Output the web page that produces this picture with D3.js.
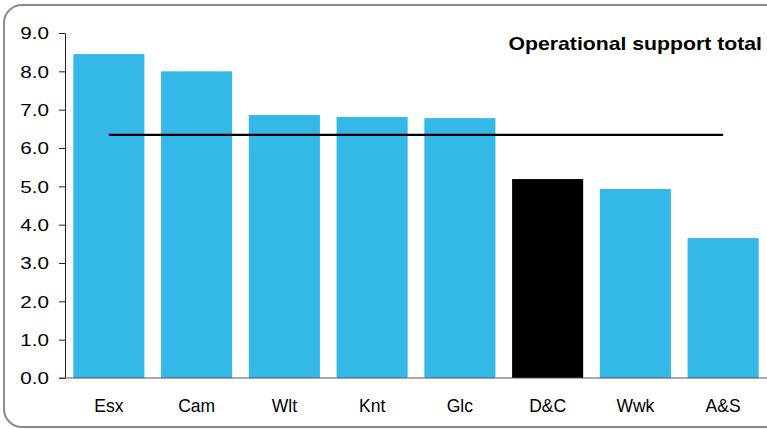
<!DOCTYPE html>
<html><head><meta charset="utf-8">
<script src="https://cdn.jsdelivr.net/npm/d3@7"></script>
<style>body{margin:0;background:#fff}svg{display:block}</style>
</head><body><svg id="c" width="767" height="429"></svg>
<script>
const categories = ["Esx","Cam","Wlt","Knt","Glc","D&C","Wwk","A&S"];
const values = [8.45, 8.0, 6.86, 6.81, 6.78, 5.19, 4.93, 3.65];
const highlight = ["D&C"];
const average = 6.34;
const yTicks = [0,1,2,3,4,5,6,7,8,9];
const title = "Operational support total";

const svg = d3.select("#c");
const font = "'Liberation Sans', Arial, sans-serif";
svg.append("rect").attr("x",4).attr("y",5).attr("width",790).attr("height",422)
  .attr("rx",18).attr("fill","#fff").attr("stroke","#8a8a8a").attr("stroke-width",2);

const x = d3.scaleBand().domain(categories).range([65,767]).paddingInner(0.19).paddingOuter(0.095);
const y = d3.scaleLinear().domain([0,9]).range([378,33]);

svg.selectAll(".bar").data(categories).join("rect")
  .attr("x",d=>x(d)).attr("width",x.bandwidth())
  .attr("y",(d,i)=>y(values[i])).attr("height",(d,i)=>y(0)-y(values[i]))
  .attr("fill",d=>highlight.includes(d)?"#000":"#33b8e8");

// average line
svg.append("line")
  .attr("x1",x(categories[0])+x.bandwidth()/2).attr("x2",x(categories[categories.length-1])+x.bandwidth()/2)
  .attr("y1",y(average)).attr("y2",y(average)).attr("stroke","#000").attr("stroke-width",2.2);

// y axis
const ya = svg.append("g").attr("transform","translate(65,0)")
  .call(d3.axisLeft(y).tickValues(yTicks).tickFormat(d3.format(".1f")).tickSize(6).tickSizeOuter(0));
ya.select(".domain").attr("stroke","#222");
ya.selectAll(".tick line").attr("stroke","#222");
ya.selectAll("text").attr("font-family",font).attr("font-size",16.5).attr("fill","#000")
  .attr("x",null).attr("dy","0.36em").attr("transform","translate(-16,0) scale(1.25,1)");

// x axis
svg.append("line").attr("x1",59).attr("x2",767).attr("y1",378).attr("y2",378).attr("stroke","#555").attr("stroke-width",1);
svg.selectAll(".xl").data(categories).join("text")
  .attr("x",d=>x(d)+x.bandwidth()/2).attr("y",412).attr("text-anchor","middle")
  .attr("font-family",font).attr("font-size",17.5).attr("fill","#000").text(d=>d);

svg.append("text").attr("transform","translate(762,50) scale(1.18,1)").attr("text-anchor","end")
  .attr("font-family",font).attr("font-weight","bold").attr("font-size",18).attr("fill","#000").text(title);
</script></body></html>
